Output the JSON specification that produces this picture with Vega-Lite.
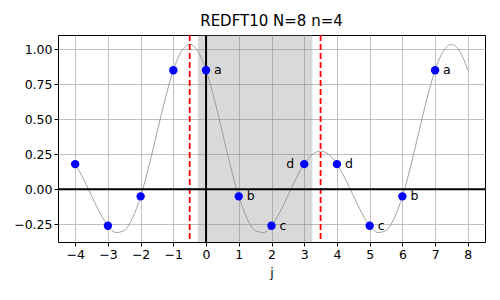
{
  "$schema": "https://vega.github.io/schema/vega-lite/v6.json",
  "width": 427,
  "height": 207,
  "autosize": "none",
  "padding": {"left": 58, "top": 35, "right": 15, "bottom": 58},
  "background": "white",
  "title": {"text": "REDFT10 N=8 n=4", "fontSize": 15, "fontWeight": "normal", "font": "DejaVu Sans", "color": "black", "offset": 5},
  "config": {
    "view": {"stroke": "black", "strokeWidth": 1},
    "axis": {
      "labelFont": "DejaVu Sans", "labelFontSize": 12.5, "labelColor": "black", "labelOverlap": false,
      "titleFont": "DejaVu Sans", "titleFontSize": 12.5, "titleFontWeight": "normal", "titleColor": "black",
      "tickColor": "black", "tickSize": 4, "domain": false,
      "gridColor": "#b0b0b0", "gridWidth": 0.8, "gridOpacity": 1
    }
  },
  "datasets": {
    "pts": [
      {"j": -4, "x": 0.18, "label": ""},
      {"j": -3, "x": -0.26, "label": ""},
      {"j": -2, "x": -0.05, "label": ""},
      {"j": -1, "x": 0.85, "label": ""},
      {"j": 0, "x": 0.85, "label": "a"},
      {"j": 1, "x": -0.05, "label": "b"},
      {"j": 2, "x": -0.26, "label": "c"},
      {"j": 3, "x": 0.18, "label": "d"},
      {"j": 4, "x": 0.18, "label": "d"},
      {"j": 5, "x": -0.26, "label": "c"},
      {"j": 6, "x": -0.05, "label": "b"},
      {"j": 7, "x": 0.85, "label": "a"}
    ],
    "curve": [
      {"t": -4, "f": 0.18}, {"t": -3.75, "f": 0.0766}, {"t": -3.5, "f": -0.0452}, {"t": -3.25, "f": -0.165},
      {"t": -3, "f": -0.26}, {"t": -2.75, "f": -0.3086}, {"t": -2.5, "f": -0.2938}, {"t": -2.25, "f": -0.2068},
      {"t": -2, "f": -0.05}, {"t": -1.75, "f": 0.1624}, {"t": -1.5, "f": 0.4052}, {"t": -1.25, "f": 0.646},
      {"t": -1, "f": 0.85}, {"t": -0.75, "f": 0.9866}, {"t": -0.5, "f": 1.0346}, {"t": -0.25, "f": 0.9866},
      {"t": 0, "f": 0.85}, {"t": 0.25, "f": 0.646}, {"t": 0.5, "f": 0.4052}, {"t": 0.75, "f": 0.1624},
      {"t": 1, "f": -0.05}, {"t": 1.25, "f": -0.2068}, {"t": 1.5, "f": -0.2938}, {"t": 1.75, "f": -0.3086},
      {"t": 2, "f": -0.26}, {"t": 2.25, "f": -0.165}, {"t": 2.5, "f": -0.0452}, {"t": 2.75, "f": 0.0766},
      {"t": 3, "f": 0.18}, {"t": 3.25, "f": 0.2488}, {"t": 3.5, "f": 0.2729}, {"t": 3.75, "f": 0.2488},
      {"t": 4, "f": 0.18}, {"t": 4.25, "f": 0.0766}, {"t": 4.5, "f": -0.0452}, {"t": 4.75, "f": -0.165},
      {"t": 5, "f": -0.26}, {"t": 5.25, "f": -0.3086}, {"t": 5.5, "f": -0.2938}, {"t": 5.75, "f": -0.2068},
      {"t": 6, "f": -0.05}, {"t": 6.25, "f": 0.1624}, {"t": 6.5, "f": 0.4052}, {"t": 6.75, "f": 0.646},
      {"t": 7, "f": 0.85}, {"t": 7.25, "f": 0.9866}, {"t": 7.5, "f": 1.0346}, {"t": 7.75, "f": 0.9866},
      {"t": 8, "f": 0.85}
    ],
    "span": [{"x0": -0.25, "x1": 3.25}],
    "bounds": [{"b": -0.5}, {"b": 3.5}],
    "origin": [{"o": 0}]
  },
  "encoding": {
    "x": {"type": "quantitative", "scale": {"domain": [-4.525, 8.525], "nice": false, "zero": false},
          "axis": {"values": [-4,-3,-2,-1,0,1,2,3,4,5,6,7,8], "format": "d", "title": "j", "grid": true, "titlePadding": 6, "labelOverlap": false}},
    "y": {"type": "quantitative", "scale": {"domain": [-0.376, 1.102], "nice": false, "zero": false},
          "axis": {"values": [-0.25, 0, 0.25, 0.5, 0.75, 1.0], "format": ".2f", "title": null, "grid": true}}
  },
  "layer": [
    {
      "data": {"name": "span"},
      "mark": {"type": "rect", "color": "gray", "opacity": 0.3},
      "encoding": {
        "x": {"field": "x0", "type": "quantitative"},
        "x2": {"field": "x1"},
        "y": null
      }
    },
    {
      "data": {"name": "curve"},
      "mark": {"type": "line", "color": "#8c8c8c", "strokeWidth": 0.8, "interpolate": "monotone", "clip": true},
      "encoding": {
        "x": {"field": "t", "type": "quantitative"},
        "y": {"field": "f", "type": "quantitative"}
      }
    },
    {
      "data": {"name": "bounds"},
      "mark": {"type": "rule", "color": "red", "strokeWidth": 1.8, "strokeDash": [6, 3]},
      "encoding": {"x": {"field": "b", "type": "quantitative"}, "y": null}
    },
    {
      "data": {"name": "origin"},
      "mark": {"type": "rule", "color": "black", "strokeWidth": 2},
      "encoding": {"x": {"field": "o", "type": "quantitative"}, "y": null}
    },
    {
      "data": {"name": "origin"},
      "mark": {"type": "rule", "color": "black", "strokeWidth": 2},
      "encoding": {"y": {"field": "o", "type": "quantitative"}, "x": null}
    },
    {
      "data": {"name": "pts"},
      "mark": {"type": "circle", "color": "#0000ff", "opacity": 1, "size": 70},
      "encoding": {
        "x": {"field": "j", "type": "quantitative"},
        "y": {"field": "x", "type": "quantitative"}
      }
    },
    {
      "data": {"name": "pts"},
      "transform": [{"filter": "datum.label != '' && datum.j != 3"}],
      "mark": {"type": "text", "align": "left", "baseline": "middle", "dx": 8, "font": "DejaVu Sans", "fontSize": 12.5, "color": "black"},
      "encoding": {
        "x": {"field": "j", "type": "quantitative"},
        "y": {"field": "x", "type": "quantitative"},
        "text": {"field": "label"}
      }
    },
    {
      "data": {"name": "pts"},
      "transform": [{"filter": "datum.j == 3"}],
      "mark": {"type": "text", "align": "right", "baseline": "middle", "dx": -10, "font": "DejaVu Sans", "fontSize": 12.5, "color": "black"},
      "encoding": {
        "x": {"field": "j", "type": "quantitative"},
        "y": {"field": "x", "type": "quantitative"},
        "text": {"field": "label"}
      }
    }
  ]
}
